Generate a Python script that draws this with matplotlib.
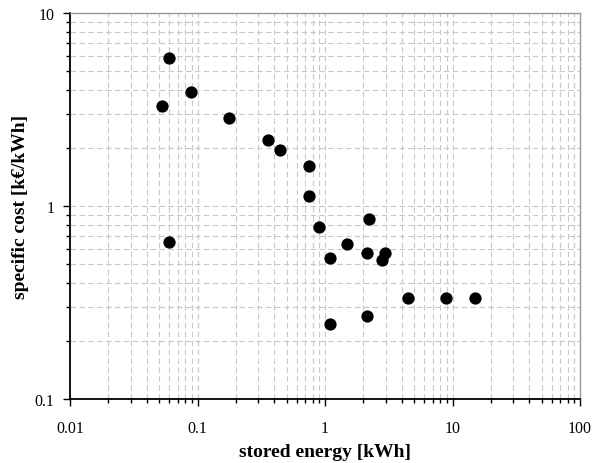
import matplotlib
matplotlib.use("Agg")
import matplotlib.pyplot as plt
from matplotlib.ticker import LogLocator, FixedLocator, FixedFormatter, NullFormatter

stored_energy = [0.053, 0.0595, 0.089, 0.178, 0.357, 0.446, 0.744, 0.744, 0.892,
                 0.0595, 1.095, 1.49, 2.22, 2.14, 2.98, 2.82, 4.46, 8.97, 14.9,
                 1.095, 2.14]
specific_cost = [3.31, 5.82, 3.88, 2.85, 2.19, 1.94, 1.61, 1.127, 0.78,
                 0.654, 0.54, 0.636, 0.86, 0.571, 0.571, 0.523, 0.333, 0.333, 0.333,
                 0.244, 0.268]
x_ticks = [0.01, 0.1, 1, 10, 100]
x_labels = ["0.01", "0.1", "1", "10", "100"]
y_ticks = [0.1, 1, 10]
y_labels = ["0.1", "1", "10"]

plt.rcParams['font.family'] = ['Liberation Serif', 'DejaVu Serif']

fig = plt.figure(figsize=(5.99, 4.64), dpi=100)
ax = fig.add_axes([70/599, 1-400/464, 510/599, 386/464])
ax.set_xscale('log')
ax.set_yscale('log')
ax.set_xlim(0.01, 100)
ax.set_ylim(0.1, 10)

ax.scatter(stored_energy, specific_cost, s=78, color='black', zorder=3, linewidths=0)

ax.xaxis.set_major_locator(FixedLocator(x_ticks))
ax.xaxis.set_major_formatter(FixedFormatter(x_labels))
ax.yaxis.set_major_locator(FixedLocator(y_ticks))
ax.yaxis.set_major_formatter(FixedFormatter(y_labels))
ax.xaxis.set_minor_locator(LogLocator(base=10, subs=range(2, 10), numticks=20))
ax.yaxis.set_minor_locator(LogLocator(base=10, subs=range(2, 10), numticks=20))
ax.xaxis.set_minor_formatter(NullFormatter())
ax.yaxis.set_minor_formatter(NullFormatter())

ax.grid(True, which='both', linestyle=(0, (5, 3)), color='#c8c8c8', linewidth=0.8)
ax.set_axisbelow(True)

ax.tick_params(which='major', direction='out', length=5, width=1, labelsize=11.5,
               top=False, right=False)
ax.tick_params(axis='x', which='major', pad=10)
ax.tick_params(axis='y', which='major', pad=6)
ax.tick_params(which='minor', direction='out', length=3, width=1, top=False, right=False)

for side in ['top', 'right']:
    ax.spines[side].set_color('#999999')
    ax.spines[side].set_linewidth(1)
for side in ['left', 'bottom']:
    ax.spines[side].set_color('black')
    ax.spines[side].set_linewidth(1.3)

ax.set_xlabel('stored energy [kWh]', fontsize=14, fontweight='bold', labelpad=5)
ax.set_ylabel('specific cost [k€/kWh]', fontsize=14, fontweight='bold', labelpad=4)

fig.savefig('out.png', dpi=100)
